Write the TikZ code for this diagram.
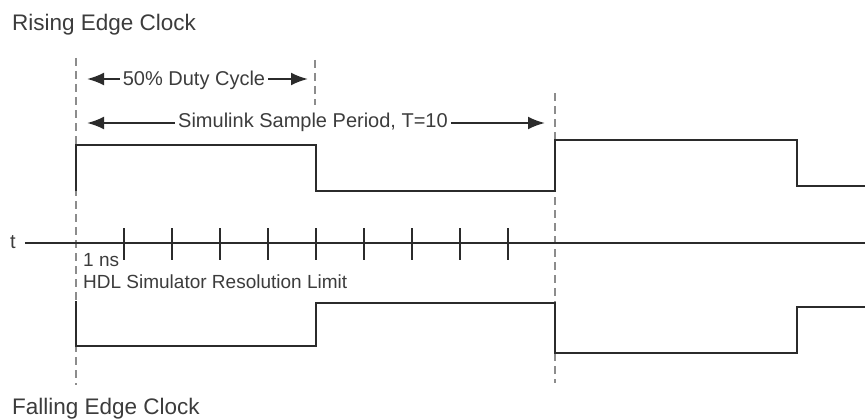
\documentclass[tikz,border=0pt]{standalone}
\usepackage{fontspec}
\setmainfont{Liberation Sans}
\usepackage{xcolor}
\usepackage{tikz}
\usetikzlibrary{positioning,arrows.meta}
\definecolor{inkgrey}{HTML}{2B2B2B}
\definecolor{textgrey}{HTML}{3C3C3C}
\definecolor{guidegrey}{HTML}{8C8C8C}

\begin{document}
\begin{tikzpicture}[
  x=1pt, y=-1pt,
  wave/.style={draw=inkgrey, line width=1.9pt},
  guide/.style={draw=guidegrey, line width=1.2pt, dash pattern=on 8pt off 5pt},
  span/.style={draw=inkgrey, line width=2.2pt, -{Latex[length=17pt,width=13pt]}},
  lbl/.style={font=\fontsize{20}{24}\selectfont, text=textgrey, inner ysep=0pt, inner xsep=3pt, anchor=base},
  note/.style={font=\fontsize{19}{23}\selectfont, text=textgrey, inner sep=0pt, anchor=base west},
  title/.style={font=\fontsize{22.5}{27}\selectfont, text=textgrey, inner sep=0pt, anchor=base west}
]
  \useasboundingbox (0,0) rectangle (865,420);

  % titles
  \node[title] (rise) at (12,31) {Rising Edge Clock};
  \node[title] (fall) at (12,414) {Falling Edge Clock};

  % period markers
  \coordinate (g1top) at (76,58);  \coordinate (g1bot) at (76,385);
  \coordinate (g2top) at (315,60); \coordinate (g2bot) at (315,105);
  \coordinate (g3top) at (555,93); \coordinate (g3bot) at (555,383);
  \draw[guide] (g1top) -- (g1bot);
  \draw[guide] (g2top) -- (g2bot);
  \draw[guide] (g3top) -- (g3bot);

  \node[lbl] (duty) at (194,85) {50\% Duty Cycle};
  \coordinate (dutyL) at (87,79);
  \coordinate (dutyR) at (308,79);
  \draw[span] (duty.west |- dutyL) -- (dutyL);
  \draw[span] (duty.east |- dutyR) -- (dutyR);

  \node[lbl] (period) at (313,128) {Simulink Sample Period, T=10};
  \coordinate (periodL) at (87,123);
  \coordinate (periodR) at (545,123);
  \draw[span] (period.west |- periodL) -- (periodL);
  \draw[span] (period.east |- periodR) -- (periodR);

  % clocks
  \draw[wave] (76,191) -- (76,145) -- (316,145) -- (316,191) -- (555,191)
    -- (555,140) -- (797,140) -- (797,186) -- (865,186);
  \draw[wave] (76,301) -- (76,346) -- (316,346) -- (316,303) -- (555,303)
    -- (555,353) -- (797,353) -- (797,307) -- (865,307);

  % time axis
  \node[note, font=\fontsize{20}{24}\selectfont] (t) at (10,248) {t};
  \coordinate (tend) at (865,243);
  \draw[wave] (t.east |- tend) ++(9,0) -- (tend);
  \foreach \i in {1,...,9}
    \draw[wave] (76+\i*48,228) -- ++(0,32);

  \node[note] (ns) at (83,266) {1 ns};
  \node[note] (hdl) at (83,288) {HDL Simulator Resolution Limit};
\end{tikzpicture}
\end{document}
